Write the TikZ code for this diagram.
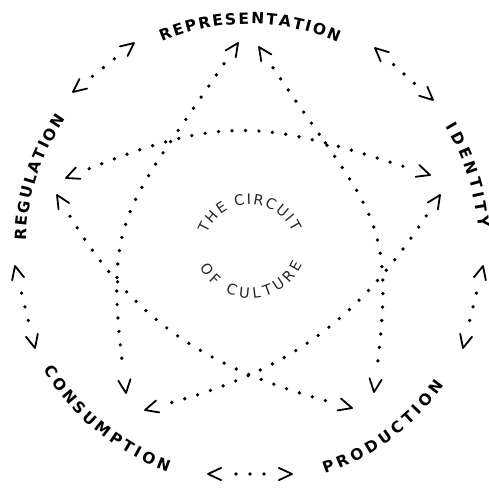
\documentclass[tikz,border=0pt]{standalone}
\usepackage{fontspec}
\setsansfont{DejaVu Sans}
\usetikzlibrary{calc,decorations.text}
\tikzset{
  dotline/.style={line width=3.7pt, line cap=round, dash pattern=on 0pt off 13.5pt, shorten <=25pt, shorten >=25pt},
  odots/.style 2 args={line width=3.7pt, line cap=round, dash pattern=on 0pt off 14pt, shorten <=#1, shorten >=#2},
  chevst/.style={line width=1.8pt, line cap=round, line join=round},
  bigtext/.style={decorate, decoration={text along path, text align=fit to path,
     text={|\sffamily\bfseries\fontsize{15.5pt}{18pt}\selectfont|#1}}},
  smalltext/.style={decorate, decoration={text along path, text align=fit to path,
     text={|\sffamily\fontsize{14.5pt}{17pt}\selectfont\color{black!85}|#1}}}
}
\newcommand\chev[2]{\draw[chevst] ($(#1)!14.5pt!25:(#2)$) -- (#1) -- ($(#1)!14.5pt!-25:(#2)$);}
\begin{document}
\begin{tikzpicture}[x=1pt,y=1pt]
\useasboundingbox (0,0) rectangle (489,-490);
\coordinate (O) at (249,-246);
\coordinate (Ot) at (250,-251);
\coordinate (Ob) at (250,-241);
% outer labels
\path[bigtext=REPRESENTATION] ($(O)+(113.1:222)$) arc[start angle=113.1, end angle=66.4, radius=222];
\path[bigtext=IDENTITY] ($(O)+(31.2:230)$) arc[start angle=31.2, end angle=4.5, radius=230];
\path[bigtext=REGULATION] ($(O)+(178.6:223)$) arc[start angle=178.6, end angle=145.3, radius=223];
\path[bigtext=CONSUMPTION] ($(O)+(211:240)$) arc[start angle=211, end angle=250.2, radius=240];
\path[bigtext=PRODUCTION] ($(O)+(-71.6:240)$) arc[start angle=-71.6, end angle=-35.5, radius=240];
% centre text
\path[smalltext={THE CIRCUIT}] ($(Ot)+(158:46.5)$) arc[start angle=158, end angle=24, radius=46.5];
\path[smalltext={OF CULTURE}] ($(Ob)+(208:57)$) arc[start angle=208, end angle=336, radius=57];
% outer arrows
\coordinate (o1a) at (73,-92);   \coordinate (o1b) at (134,-43);
\coordinate (o2a) at (375,-48);  \coordinate (o2b) at (433,-100);
\coordinate (o3a) at (483,-266); \coordinate (o3b) at (463,-348);
\coordinate (o4a) at (208,-474); \coordinate (o4b) at (292,-474);
\coordinate (o5a) at (15,-266);  \coordinate (o5b) at (35,-348);
\draw[odots={25pt}{24pt}] (o1a) -- (o1b);
\draw[odots={25pt}{24pt}] (o2a) -- (o2b);
\draw[odots={28pt}{27pt}] (o3a) -- (o3b);
\draw[odots={28pt}{27pt}] (o4a) -- (o4b);
\draw[odots={28pt}{27pt}] (o5a) -- (o5b);
\chev{o1a}{o1b}\chev{o1b}{o1a}
\chev{o2a}{o2b}\chev{o2b}{o2a}
\chev{o3a}{o3b}\chev{o3b}{o3a}
\chev{o4a}{o4b}\chev{o4b}{o4a}
\chev{o5a}{o5b}\chev{o5b}{o5a}
% inner pentagram
\coordinate (p1a) at (238,-43);  \coordinate (p1c1) at (126,-209); \coordinate (p1c2) at (104,-215); \coordinate (p1b) at (126,-393);
\coordinate (p2a) at (259,-47);  \coordinate (p2c1) at (371,-213); \coordinate (p2c2) at (396,-214); \coordinate (p2b) at (374,-392);
\coordinate (p3a) at (66,-178);  \coordinate (p3c1) at (225,-114); \coordinate (p3c2) at (266,-122); \coordinate (p3b) at (430,-175);
\coordinate (p4a) at (57,-195);  \coordinate (p4c1) at (135,-323); \coordinate (p4c2) at (208,-368); \coordinate (p4b) at (352,-408);
\coordinate (p5a) at (440,-195); \coordinate (p5c1) at (357,-321); \coordinate (p5c2) at (289,-370); \coordinate (p5b) at (145,-410);
\foreach \i in {1,...,5}{
  \draw[dotline] (p\i a) .. controls (p\i c1) and (p\i c2) .. (p\i b);
  \chev{p\i a}{p\i c1}
  \chev{p\i b}{p\i c2}
}
\end{tikzpicture}
\end{document}
